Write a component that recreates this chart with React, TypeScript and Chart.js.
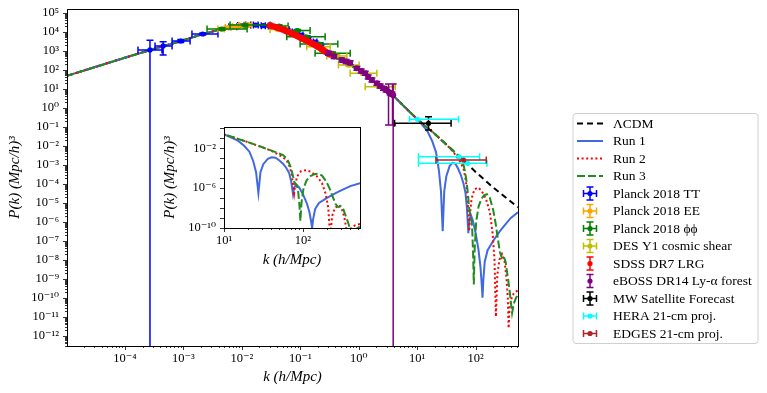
import React, { useEffect, useRef } from 'react';
import { Chart, registerables } from 'chart.js';

Chart.register(...registerables);

const FONT = "'Liberation Serif', 'DejaVu Serif', serif";

// ---------- model curves: k (h/Mpc) and P(k) ((Mpc/h)^3) ----------
const kBase = [1e-5, 3e-5, 1e-4, 3e-4, 1e-3, 2e-3, 4e-3, 7e-3, 0.01, 0.015, 0.02, 0.03, 0.045, 0.07, 0.1, 0.15, 0.22, 0.32, 0.5, 0.7, 1, 1.5, 2, 3, 4, 6, 10];
const pBase = [47, 134, 430, 1200, 3550, 7000, 12500, 17500, 20500, 22600, 22900, 21000, 14800, 8500, 5000, 2630, 1380, 645, 300, 185, 95, 38, 19, 8.3, 4.0, 1.15, 0.25];

const kLcdmTail = [20, 50, 100, 200, 530];
const pLcdmTail = [0.0417, 3.16e-3, 4.17e-4, 6.3e-5, 5.75e-6];

const kRun1Tail = [12, 15, 18, 21, 23.5, 25.5, 27.3, 29, 31.5, 36, 40, 45, 50, 56, 62, 67, 71, 75, 78, 83, 90, 100, 112, 121, 127, 131, 135, 143, 160, 200, 260, 320, 400, 530];
const pRun1Tail = [0.132, 0.0575, 0.0178, 4.5e-3, 5.0e-4, 4.0e-5, 3.2e-7, 4.0e-5, 2.5e-4, 8.9e-4, 1.26e-3, 1.12e-3, 6.3e-4, 2.8e-4, 1.0e-4, 3.2e-5, 5.0e-6, 2.5e-7, 1.26e-6, 2.2e-6, 1.1e-6, 2.5e-7, 3.2e-8, 4.0e-9, 5.0e-10, 1.0e-10, 7.9e-10, 7.9e-9, 3.2e-8, 1.0e-7, 3.2e-7, 7.1e-7, 1.6e-6, 3.2e-6];

const kRun2Tail = [20, 30, 40, 48, 56, 63, 68, 72, 75, 77.5, 80, 85, 95, 110, 125, 150, 175, 195, 210, 222, 235, 255, 282, 310, 335, 355, 366, 380, 420, 470, 530];
const pRun2Tail = [0.0417, 0.0132, 5.5e-3, 2.5e-3, 1.26e-3, 5.0e-4, 1.41e-4, 2.5e-5, 2.5e-6, 3.2e-7, 2.5e-6, 1.6e-5, 5.0e-5, 6.3e-5, 4.5e-5, 1.6e-5, 3.2e-6, 2.5e-7, 1.0e-8, 1.0e-11, 1.6e-9, 1.0e-8, 2.0e-8, 1.0e-8, 1.26e-9, 1.0e-10, 2.5e-12, 3.2e-11, 1.26e-10, 2.0e-10, 2.5e-10];

const kRun3Tail = [20, 30, 40, 50, 56, 62, 66, 70, 74, 78, 81, 84, 87, 90, 93, 96, 102, 112, 125, 140, 156, 175, 200, 220, 240, 260, 280, 300, 325, 350, 380, 420, 450, 490, 530];
const pRun3Tail = [0.0417, 0.0132, 5.75e-3, 3.0e-3, 2.1e-3, 1.0e-3, 4.0e-4, 1.26e-4, 2.5e-5, 4.0e-6, 2.5e-6, 1.8e-6, 5.0e-7, 3.2e-8, 5.0e-10, 3.2e-8, 1.0e-6, 6.3e-6, 1.6e-5, 2.5e-5, 2.8e-5, 1.8e-5, 4.0e-6, 7.9e-7, 1.26e-7, 2.5e-8, 1.26e-8, 1.6e-8, 7.9e-9, 1.6e-9, 2.5e-10, 1.6e-11, 5.0e-11, 1.0e-10, 1.4e-10];

// ---------- data with error bars ----------
const ttK = [2.68e-4, 4.5e-4, 9.0e-4, 2.14e-3, 7.06e-3, 9.7e-3, 1.28e-2, 1.73e-2, 2.33e-2, 3.04e-2, 4.34e-2, 5.94e-2, 7.83e-2, 0.103, 0.136, 0.179, 0.227];
const ttP = [1100, 1800, 3250, 7600, 18300, 21200, 22500, 22500, 20700, 19950, 16600, 13000, 9650, 6700, 4380, 2870, 1880];
const ttKLo = [1.67e-4, 3.27e-4, 6.4e-4, 1.4e-3, 6.0e-3, 8.5e-3, 1.15e-2, 1.58e-2, 2.15e-2, 2.85e-2, 4.0e-2, 5.5e-2, 7.3e-2, 9.6e-2, 0.127, 0.167, 0.212];
const ttKHi = [4.3e-4, 6.4e-4, 1.3e-3, 3.9e-3, 8.2e-3, 1.1e-2, 1.42e-2, 1.9e-2, 2.52e-2, 3.25e-2, 4.7e-2, 6.4e-2, 8.4e-2, 0.111, 0.146, 0.192, 0.243];
const ttPLo = [1e-20, 590, 2700, 6800, 16000, 19000, 20500, 20500, 18500, 17800, 14800, 11500, 8500, 5900, 3850, 2500, 1650];
const ttPHi = [3600, 2950, 3900, 8500, 20800, 23600, 24700, 24700, 23000, 22300, 18600, 14600, 10900, 7600, 4950, 3250, 2150];

const eeK = [4.4e-3, 5.81e-3, 7.66e-3, 1.01e-2, 1.33e-2];
const eeP = [13900, 16600, 18800, 21200, 22500];
const eeKLo = [3.9e-3, 5.2e-3, 6.9e-3, 9.1e-3, 1.2e-2];
const eeKHi = [5.0e-3, 6.5e-3, 8.5e-3, 1.12e-2, 1.47e-2];
const eePLo = [12200, 14800, 16900, 19200, 20400];
const eePHi = [15800, 18600, 20900, 23400, 24800];

const ppK = [4.58e-3, 1.13e-2, 4.34e-2, 8.99e-2, 0.125, 0.208, 0.357];
const ppP = [13900, 22500, 20000, 11600, 5450, 2250, 730];
const ppKLo = [2.54e-3, 6.28e-3, 3.04e-2, 5.49e-2, 5.87e-2, 9.93e-2, 0.179];
const ppKHi = [1.23e-2, 3.04e-2, 6.18e-2, 0.147, 0.266, 0.438, 0.713];
const ppPLo = [12000, 20000, 17800, 10300, 4800, 1950, 630];
const ppPHi = [16000, 25300, 22400, 13000, 6200, 2600, 850];

const desK = [0.0417, 0.204, 0.422, 0.678, 1.2, 2.32];
const desP = [13050, 1620, 526, 177, 64.6, 12.7];
const desKLo = [0.0304, 0.129, 0.284, 0.449, 0.713, 1.29];
const desKHi = [0.0594, 0.324, 0.625, 1.016, 2.04, 4.2];
const desPLo = [11500, 1400, 450, 150, 54, 10.5];
const desPHi = [14800, 1880, 615, 208, 77, 15.3];

const sdssK = [0.0304, 0.0335, 0.037, 0.0409, 0.0451, 0.0498, 0.0549, 0.0606, 0.0669, 0.0738, 0.0815, 0.09, 0.0993, 0.11, 0.121, 0.134, 0.147, 0.162, 0.179, 0.1975, 0.218, 0.241, 0.266, 0.294, 0.324];
const sdssP = [21200, 19600, 18100, 16300, 14700, 13100, 11600, 10100, 8850, 7700, 6700, 5750, 4950, 4250, 3660, 3150, 2700, 2330, 2000, 1670, 1390, 1120, 908, 760, 630];
const sdssPLo = [18800, 17400, 16000, 14400, 13000, 11600, 10200, 8900, 7800, 6800, 5900, 5100, 4350, 3750, 3200, 2770, 2350, 2040, 1740, 1450, 1200, 970, 780, 650, 540];
const sdssPHi = [23800, 22000, 20400, 18300, 16600, 14700, 13100, 11400, 10000, 8700, 7600, 6500, 5630, 4820, 4180, 3600, 3100, 2680, 2300, 1920, 1610, 1300, 1060, 885, 735];

const ebossK = [0.303, 0.379, 0.514, 0.608, 0.713, 0.929, 1.10, 1.29, 1.45, 1.68, 2.04, 2.32, 2.65, 2.94, 3.45, 3.69, 3.23, 3.78, 3.88];
const ebossP = [730, 495, 324, 270, 234, 118, 85.5, 64.7, 41.3, 28.7, 19.2, 13.9, 10.5, 8.55, 5.94, 5.26, 6.95, 5.0, 4.5];
const ebossPLo = [575, 390, 255, 213, 184, 93, 67, 51, 32.5, 22.6, 15.1, 10.9, 8.3, 6.7, 4.7, 4.1, 0.123, 0.123, 1e-20];
const ebossPHi = [927, 629, 411, 343, 297, 150, 109, 82, 52.5, 36.5, 24.4, 17.7, 13.3, 10.9, 7.5, 6.7, 17.7, 17.7, 17.7];

const mwK = [15.6];
const mwP = [0.151];
const mwKLo = [4.1];
const mwKHi = [38];
const mwPLo = [0.0676];
const mwPHi = [0.338];

const heraK = [10.1, 52.4, 72.6];
const heraP = [0.245, 2.63e-3, 1.19e-3];
const heraKLo = [7.38, 10.5, 10.5];
const heraKHi = [50.9, 116.7, 156];

const edgesK = [62.1];
const edgesP = [1.78e-3];
const edgesKLo = [20.9];
const edgesKHi = [152];

// ---------- tick labels (exponents of 10) ----------
const mainXTickExps = [-4, -3, -2, -1, 0, 1, 2];
const mainYTickExps = [-12, -11, -10, -9, -8, -7, -6, -5, -4, -3, -2, -1, 0, 1, 2, 3, 4, 5];
const insetXTickExps = [1, 2];
const insetYTickExps = [-10, -6, -2];

const SUP: Record<string, string> = { '0': '⁰', '1': '¹', '2': '²', '3': '³', '4': '⁴', '5': '⁵', '6': '⁶', '7': '⁷', '8': '⁸', '9': '⁹', '-': '⁻' };
const pow10Label = (e: number) => '10' + String(e).split('').map((c) => SUP[c] ?? c).join('');

const curve = (ks: number[], ps: number[]) => ks.map((x, i) => ({ x, y: ps[i] }));
const pts = (k: number[], p: number[], kLo?: number[], kHi?: number[], pLo?: number[], pHi?: number[]) =>
  k.map((x, i) => ({ x, y: p[i], xMin: kLo?.[i], xMax: kHi?.[i], yMin: pLo?.[i], yMax: pHi?.[i] }));

const lcdmData = curve([...kBase, ...kLcdmTail], [...pBase, ...pLcdmTail]);
const run1Data = curve([...kBase, ...kRun1Tail], [...pBase, ...pRun1Tail]);
const run2Data = curve([...kBase, ...kRun2Tail], [...pBase, ...pRun2Tail]);
const run3Data = curve([...kBase, ...kRun3Tail], [...pBase, ...pRun3Tail]);

function buildLogTicks(min: number, max: number, subs: number[]) {
  const out: any[] = [];
  const e0 = Math.floor(Math.log10(min));
  const e1 = Math.ceil(Math.log10(max));
  for (let e = e0; e <= e1; e++) {
    for (const s of subs) {
      const v = s * Math.pow(10, e);
      if (v >= min * (1 - 1e-9) && v <= max * (1 + 1e-9)) out.push({ value: v, isMajor: s === 1 });
    }
  }
  return out;
}

function logAxis(o: { min: number; max: number; horizontal: boolean; size: number; subs: number[]; exps: number[]; title: string; titlePad: any; tickPad: number }) {
  return {
    type: 'logarithmic',
    position: o.horizontal ? 'bottom' : 'left',
    min: o.min,
    max: o.max,
    grid: { display: false, drawTicks: false },
    border: { display: false },
    afterBuildTicks: (scale: any) => {
      scale.ticks = buildLogTicks(o.min, o.max, o.subs);
    },
    afterFit: (scale: any) => {
      if (o.horizontal) scale.height = o.size;
      else scale.width = o.size;
      scale.paddingLeft = 0;
      scale.paddingRight = 0;
      scale.paddingTop = 0;
      scale.paddingBottom = 0;
    },
    ticks: {
      autoSkip: false,
      maxRotation: 0,
      minRotation: 0,
      padding: o.tickPad,
      color: '#000',
      font: { family: FONT, size: 12.5 },
      callback: (value: any) => {
        const l = Math.log10(Number(value));
        const e = Math.round(l);
        return Math.abs(l - e) < 1e-6 && o.exps.includes(e) ? pow10Label(e) : '';
      },
    },
    title: {
      display: true,
      text: o.title,
      color: '#000',
      font: { family: FONT, size: 15, style: 'italic' },
      padding: o.titlePad,
    },
  };
}

const framePlugin = {
  id: 'frameTicks',
  beforeDraw(chart: any, _a: any, opts: any) {
    if (!opts || !opts.whiteArea) return;
    const a = chart.chartArea;
    const ctx = chart.ctx;
    ctx.save();
    ctx.fillStyle = '#ffffff';
    ctx.fillRect(a.left, a.top, a.right - a.left, a.bottom - a.top);
    ctx.restore();
  },
  afterDatasetsDraw(chart: any) {
    const a = chart.chartArea;
    const ctx = chart.ctx;
    ctx.save();
    ctx.strokeStyle = '#000';
    ctx.setLineDash([]);
    ctx.lineWidth = 1;
    ctx.strokeRect(Math.round(a.left) + 0.5, Math.round(a.top) + 0.5, Math.round(a.right - a.left), Math.round(a.bottom - a.top));
    const xs = chart.scales.x;
    const ys = chart.scales.y;
    ctx.beginPath();
    for (const t of xs.ticks) {
      const px = Math.round(xs.getPixelForValue(t.value)) + 0.5;
      const len = t.isMajor ? 4 : 2;
      ctx.moveTo(px, a.bottom);
      ctx.lineTo(px, a.bottom + len);
    }
    for (const t of ys.ticks) {
      const py = Math.round(ys.getPixelForValue(t.value)) + 0.5;
      const len = t.isMajor ? 4 : 2;
      ctx.moveTo(a.left, py);
      ctx.lineTo(a.left - len, py);
    }
    ctx.lineWidth = 0.8;
    ctx.stroke();
    ctx.restore();
  },
};

const errorBarPlugin = {
  id: 'errorBars',
  beforeDatasetDraw(chart: any, args: any) {
    const ds = chart.data.datasets[args.index];
    if (!ds.errorBars) return;
    const xs = chart.scales.x;
    const ys = chart.scales.y;
    const a = chart.chartArea;
    const ctx = chart.ctx;
    const cap = 3.5;
    ctx.save();
    ctx.beginPath();
    ctx.rect(a.left, a.top, a.right - a.left, a.bottom - a.top);
    ctx.clip();
    ctx.strokeStyle = ds.borderColor;
    ctx.lineWidth = 1.5;
    ctx.setLineDash([]);
    ctx.beginPath();
    for (const d of ds.data) {
      const py = ys.getPixelForValue(d.y);
      const px = xs.getPixelForValue(d.x);
      if (d.xMin != null && d.xMax != null) {
        const x1 = xs.getPixelForValue(d.xMin);
        const x2 = xs.getPixelForValue(d.xMax);
        ctx.moveTo(x1, py); ctx.lineTo(x2, py);
        ctx.moveTo(x1, py - cap); ctx.lineTo(x1, py + cap);
        ctx.moveTo(x2, py - cap); ctx.lineTo(x2, py + cap);
      }
      if (d.yMin != null && d.yMax != null) {
        const y1 = ys.getPixelForValue(d.yMin);
        const y2 = ys.getPixelForValue(d.yMax);
        ctx.moveTo(px, y1); ctx.lineTo(px, y2);
        ctx.moveTo(px - cap, y1); ctx.lineTo(px + cap, y1);
        ctx.moveTo(px - cap, y2); ctx.lineTo(px + cap, y2);
      }
    }
    ctx.stroke();
    ctx.restore();
  },
};

const legendPlugin = {
  id: 'boxLegend',
  afterDraw(chart: any) {
    const ctx = chart.ctx;
    const bx = 573, by = 113.5, bw = 185, bh = 230;
    ctx.save();
    ctx.beginPath();
    ctx.roundRect(bx, by, bw, bh, 3);
    ctx.fillStyle = '#ffffff';
    ctx.fill();
    ctx.strokeStyle = '#d0d0d0';
    ctx.lineWidth = 1;
    ctx.stroke();
    const y0 = 123.5, dy = 17.5, cx = 590;
    chart.data.datasets.forEach((ds: any, i: number) => {
      const y = y0 + i * dy;
      ctx.strokeStyle = ds.borderColor;
      ctx.fillStyle = ds.borderColor;
      if (ds.legendKind === 'line') {
        ctx.lineWidth = 2;
        ctx.setLineDash(ds.borderDash || []);
        ctx.beginPath();
        ctx.moveTo(577, y);
        ctx.lineTo(603, y);
        ctx.stroke();
        ctx.setLineDash([]);
      } else {
        ctx.lineWidth = 1.5;
        ctx.setLineDash([]);
        ctx.beginPath();
        if (ds.legendKind.includes('x')) {
          ctx.moveTo(cx - 6.5, y); ctx.lineTo(cx + 6.5, y);
          ctx.moveTo(cx - 6.5, y - 3.5); ctx.lineTo(cx - 6.5, y + 3.5);
          ctx.moveTo(cx + 6.5, y - 3.5); ctx.lineTo(cx + 6.5, y + 3.5);
        }
        if (ds.legendKind.includes('y')) {
          ctx.moveTo(cx, y - 6.5); ctx.lineTo(cx, y + 6.5);
          ctx.moveTo(cx - 3.5, y - 6.5); ctx.lineTo(cx + 3.5, y - 6.5);
          ctx.moveTo(cx - 3.5, y + 6.5); ctx.lineTo(cx + 3.5, y + 6.5);
        }
        ctx.stroke();
        ctx.beginPath();
        ctx.arc(cx, y, 2.6, 0, Math.PI * 2);
        ctx.fill();
      }
      ctx.fillStyle = '#000';
      ctx.font = `13.5px ${FONT}`;
      ctx.textAlign = 'left';
      ctx.textBaseline = 'middle';
      ctx.fillText(ds.label, 613, y + 0.5);
    });
    ctx.restore();
  },
};

const lineDs = (label: string, data: any[], color: string, dash: number[]) => ({
  label,
  data,
  showLine: true,
  borderColor: color,
  backgroundColor: color,
  borderWidth: 2,
  borderDash: dash,
  pointRadius: 0,
  pointHoverRadius: 0,
  tension: 0,
  legendKind: 'line',
});

const pointDs = (label: string, data: any[], color: string, kind: string, r: number) => ({
  label,
  data,
  showLine: false,
  borderColor: color,
  backgroundColor: color,
  pointBackgroundColor: color,
  pointBorderWidth: 0,
  pointRadius: r,
  pointHoverRadius: r,
  errorBars: true,
  legendKind: kind,
});

function mainConfig(): any {
  const list: any[] = [
    lineDs('ΛCDM', lcdmData, '#000000', [6, 4]),
    lineDs('Run 1', run1Data, '#4169e1', []),
    lineDs('Run 2', run2Data, '#ff0000', [2, 2.6]),
    lineDs('Run 3', run3Data, '#228b22', [8, 3]),
    pointDs('Planck 2018 TT', pts(ttK, ttP, ttKLo, ttKHi, ttPLo, ttPHi), '#0000ff', 'xy', 2.6),
    pointDs('Planck 2018 EE', pts(eeK, eeP, eeKLo, eeKHi, eePLo, eePHi), '#ffa500', 'xy', 2.6),
    pointDs('Planck 2018 ϕϕ', pts(ppK, ppP, ppKLo, ppKHi, ppPLo, ppPHi), '#008000', 'xy', 2.6),
    pointDs('DES Y1 cosmic shear', pts(desK, desP, desKLo, desKHi, desPLo, desPHi), '#bfbf00', 'xy', 2.6),
    pointDs('SDSS DR7 LRG', pts(sdssK, sdssP, undefined, undefined, sdssPLo, sdssPHi), '#ff0000', 'y', 3.2),
    pointDs('eBOSS DR14 Ly-α forest', pts(ebossK, ebossP, undefined, undefined, ebossPLo, ebossPHi), '#800080', 'y', 3),
    pointDs('MW Satellite Forecast', pts(mwK, mwP, mwKLo, mwKHi, mwPLo, mwPHi), '#000000', 'xy', 2.6),
    pointDs('HERA 21-cm proj.', pts(heraK, heraP, heraKLo, heraKHi), '#00ffff', 'x', 2.6),
    pointDs('EDGES 21-cm proj.', pts(edgesK, edgesP, edgesKLo, edgesKHi), '#b22222', 'x', 2.6),
  ];
  const n = list.length;
  const datasets = list.map((d, i) => ({ ...d, order: n - i }));
  return {
    type: 'scatter',
    data: { datasets },
    plugins: [framePlugin, errorBarPlugin, legendPlugin],
    options: {
      responsive: false,
      devicePixelRatio: 1,
      animation: false,
      events: [],
      layout: { padding: { left: 0, top: 9, right: 249, bottom: 0 } },
      plugins: { legend: { display: false }, tooltip: { enabled: false }, frameTicks: { whiteArea: false } },
      scales: {
        x: logAxis({ min: 1.02e-5, max: 530, horizontal: true, size: 47, subs: [1, 2, 3, 4, 5, 6, 7, 8, 9], exps: mainXTickExps, title: 'k (h/Mpc)', titlePad: { top: 0, bottom: 7 }, tickPad: 5 }),
        y: logAxis({ min: 2.9e-13, max: 1.57e5, horizontal: false, size: 67, subs: [1, 2, 3, 4, 5, 6, 7, 8, 9], exps: mainYTickExps, title: 'P(k) (Mpc/h)³', titlePad: { top: 6, bottom: 0 }, tickPad: 8 }),
      },
    },
  };
}

function insetConfig(): any {
  const list: any[] = [
    lineDs('Run 1', run1Data, '#4169e1', []),
    lineDs('Run 2', run2Data, '#ff0000', [2, 2.6]),
    lineDs('Run 3', run3Data, '#228b22', [8, 3]),
  ];
  const n = list.length;
  const datasets = list.map((d, i) => ({ ...d, order: n - i }));
  return {
    type: 'scatter',
    data: { datasets },
    plugins: [framePlugin],
    options: {
      responsive: false,
      devicePixelRatio: 1,
      animation: false,
      events: [],
      layout: { padding: { left: 0, top: 9, right: 5, bottom: 0 } },
      plugins: { legend: { display: false }, tooltip: { enabled: false }, frameTicks: { whiteArea: true } },
      scales: {
        x: logAxis({ min: 10, max: 530, horizontal: true, size: 44, subs: [1, 2, 3, 4, 5, 6, 7, 8, 9], exps: insetXTickExps, title: 'k (h/Mpc)', titlePad: { top: 0, bottom: 3 }, tickPad: 5 }),
        y: logAxis({ min: 1e-10, max: 1.35, horizontal: false, size: 74, subs: [1], exps: insetYTickExps, title: 'P(k) (Mpc/h)³', titlePad: { top: 11, bottom: 0 }, tickPad: 8 }),
      },
    },
  };
}

export default function App() {
  const mainRef = useRef<HTMLCanvasElement>(null);
  const insetRef = useRef<HTMLCanvasElement>(null);
  useEffect(() => {
    const main = new Chart(mainRef.current as HTMLCanvasElement, mainConfig());
    const inset = new Chart(insetRef.current as HTMLCanvasElement, insetConfig());
    return () => {
      main.destroy();
      inset.destroy();
    };
  }, []);
  return (
    <div style={{ position: 'fixed', left: 0, top: 0, width: 767, height: 393, background: '#ffffff', overflow: 'hidden' }}>
      <canvas ref={mainRef} width={767} height={393} style={{ position: 'absolute', left: 0, top: 0, width: 767, height: 393 }} />
      <canvas ref={insetRef} width={215} height={154} style={{ position: 'absolute', left: 150, top: 118, width: 215, height: 154 }} />
    </div>
  );
}
